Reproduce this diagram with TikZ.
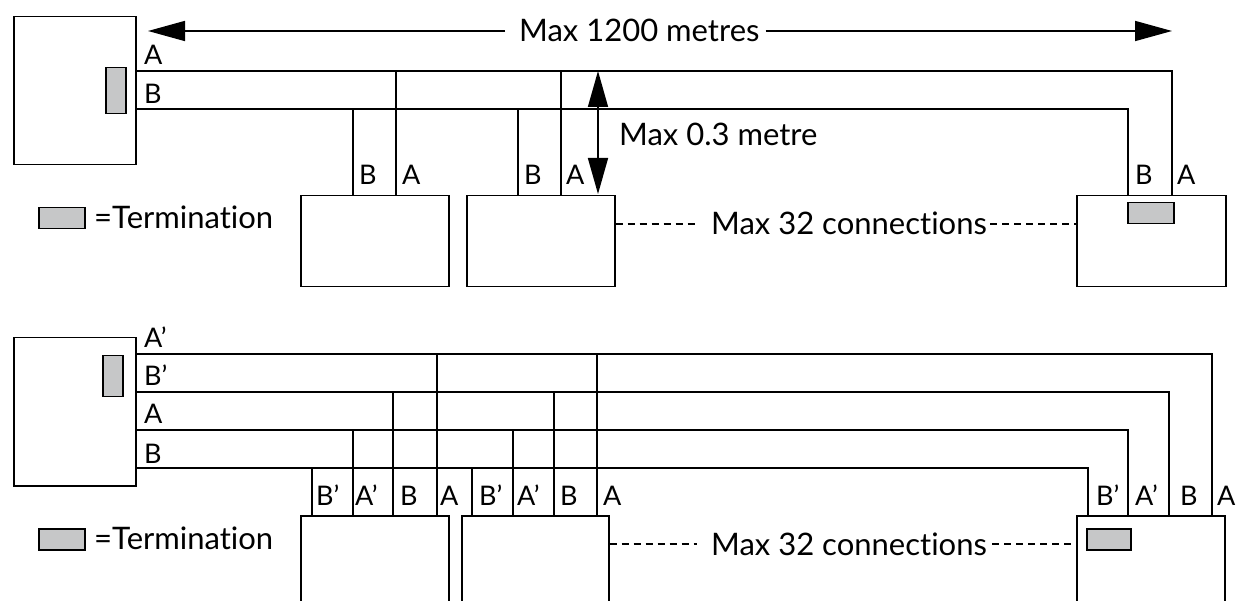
\documentclass[tikz,border=0pt]{standalone}
\usepackage{fontspec}
\setmainfont{Lato}[Ligatures=NoCommon]
\usetikzlibrary{arrows.meta}
\definecolor{termgray}{HTML}{C6C7C8}
\begin{document}
\begin{tikzpicture}[x=1pt,y=-1pt,
  box/.style={draw, line width=1.5pt, inner sep=0pt, anchor=north west},
  term/.style={draw, fill=termgray, line width=1.5pt, inner sep=0pt, anchor=north west},
  wire/.style={line width=1.3pt},
  dim/.style={line width=1.6pt},
  dashline/.style={line width=1.3pt, dash pattern=on 7pt off 5pt},
  lbl/.style={font=\fontsize{27}{27}\selectfont, inner sep=0pt, anchor=base west},
  txt/.style={font=\fontsize{31}{31}\selectfont, inner sep=0pt, anchor=base west},
  tip/.style={-{Triangle[length=37pt,width=20pt]}},
  dtip/.style={{Triangle[length=36pt,width=20pt]}-{Triangle[length=36pt,width=20pt]}}]
\useasboundingbox (0,0) rectangle (1237,601);
\clip (0,0) rectangle (1237,601);

% ---------------- top diagram ----------------
\node[box, minimum width=122pt, minimum height=148pt] (m1) at (13,16) {};
\node[term, minimum width=20pt, minimum height=46pt] (t1) at (105,67) {};
\node[box, minimum width=148pt, minimum height=91pt] (s1) at (300,195) {};
\node[box, minimum width=148pt, minimum height=91pt] (s2) at (466,195) {};
\node[box, minimum width=149pt, minimum height=91pt] (s3) at (1076,195) {};
\node[term, minimum width=46pt, minimum height=21pt] (t3) at (1127,202) {};
\node[term, minimum width=46pt, minimum height=21pt] (lg1) at (38,207) {};
\node[txt] (lgt1) at (94,229) {=Termination};

% bus wires
\draw[wire] (m1.east |- 0,71) -- (1172,71) -- (s3.north -| 1172,0);
\draw[wire] (m1.east |- 0,109) -- (1128,109) -- (s3.north -| 1128,0);
\draw[wire] (353,109) -- (s1.north -| 353,0);
\draw[wire] (396,71) -- (s1.north -| 396,0);
\draw[wire] (518,109) -- (s2.north -| 518,0);
\draw[wire] (561,71) -- (s2.north -| 561,0);

\node[lbl] at (144,65) {A};
\node[lbl] at (144,104) {B};
\node[lbl] at (359,185) {B};
\node[lbl] at (402,185) {A};
\node[lbl] at (524,185) {B};
\node[lbl] at (566,185) {A};
\node[lbl] at (1135,185) {B};
\node[lbl] at (1177,185) {A};

% length dimension
\node[txt] (len) at (519,42) {Max 1200 metres};
\coordinate (lenL) at (148,31);
\coordinate (lenR) at (1172,31);
\draw[dim,tip] ([xshift=-14pt]len.west |- lenL) -- (lenL);
\draw[dim,tip] ([xshift=6pt]len.east |- lenR) -- (lenR);

% stub dimension
\coordinate (stubT) at (598,71);
\coordinate (stubB) at (598,194);
\draw[dim,dtip] (stubT) -- (stubB);
\node[txt] (stub) at (619,146) {Max 0.3 metre};

% connections
\node[txt] (con1) at (711,235) {Max 32 connections};
\draw[dashline] (s2.east |- 0,224) -- ([xshift=-12pt]con1.west |- 0,224);
\draw[dashline] ([xshift=3pt]con1.east |- 0,224) -- (s3.west |- 0,224);

% ---------------- bottom diagram ----------------
\node[box, minimum width=122pt, minimum height=148pt] (m2) at (13,337) {};
\node[term, minimum width=20pt, minimum height=41pt] (t2) at (102,355) {};
\node[box, minimum width=148pt, minimum height=120pt] (s4) at (300,515) {};
\node[box, minimum width=147pt, minimum height=120pt] (s5) at (461,515) {};
\node[box, minimum width=148pt, minimum height=120pt] (s6) at (1076,515) {};
\node[term, minimum width=44pt, minimum height=21pt] (t6) at (1086,528) {};
\node[term, minimum width=46pt, minimum height=21pt] (lg2) at (38,528) {};
\node[txt] (lgt2) at (94,549) {=Termination};

% bus wires
\draw[wire] (m2.east |- 0,354) -- (1212,354) -- (s6.north -| 1212,0);
\draw[wire] (m2.east |- 0,392) -- (1169,392) -- (s6.north -| 1169,0);
\draw[wire] (m2.east |- 0,430) -- (1128,430) -- (s6.north -| 1128,0);
\draw[wire] (m2.east |- 0,468) -- (1088,468) -- (s6.north -| 1088,0);
% drops to slave 1
\draw[wire] (312,468) -- (s4.north -| 312,0);
\draw[wire] (353,430) -- (s4.north -| 353,0);
\draw[wire] (393,392) -- (s4.north -| 393,0);
\draw[wire] (437,354) -- (s4.north -| 437,0);
% drops to slave 2
\draw[wire] (472,468) -- (s5.north -| 472,0);
\draw[wire] (513,430) -- (s5.north -| 513,0);
\draw[wire] (554,392) -- (s5.north -| 554,0);
\draw[wire] (597,354) -- (s5.north -| 597,0);

\node[lbl] at (144,348) {A’};
\node[lbl] at (144,386) {B’};
\node[lbl] at (144,424) {A};
\node[lbl] at (144,463) {B};

\node[lbl] at (316,505) {B’};
\node[lbl] at (355,505) {A’};
\node[lbl] at (400,505) {B};
\node[lbl] at (440,505) {A};
\node[lbl] at (479,505) {B’};
\node[lbl] at (517,505) {A’};
\node[lbl] at (560,505) {B};
\node[lbl] at (603,505) {A};
\node[lbl] at (1096,505) {B’};
\node[lbl] at (1135,505) {A’};
\node[lbl] at (1180,505) {B};
\node[lbl] at (1217,505) {A};

\node[txt] (con2) at (711,555) {Max 32 connections};
\draw[dashline] (s5.east |- 0,544) -- ([xshift=-14pt]con2.west |- 0,544);
\draw[dashline] ([xshift=5pt]con2.east |- 0,544) -- (s6.west |- 0,544);
\end{tikzpicture}
\end{document}
